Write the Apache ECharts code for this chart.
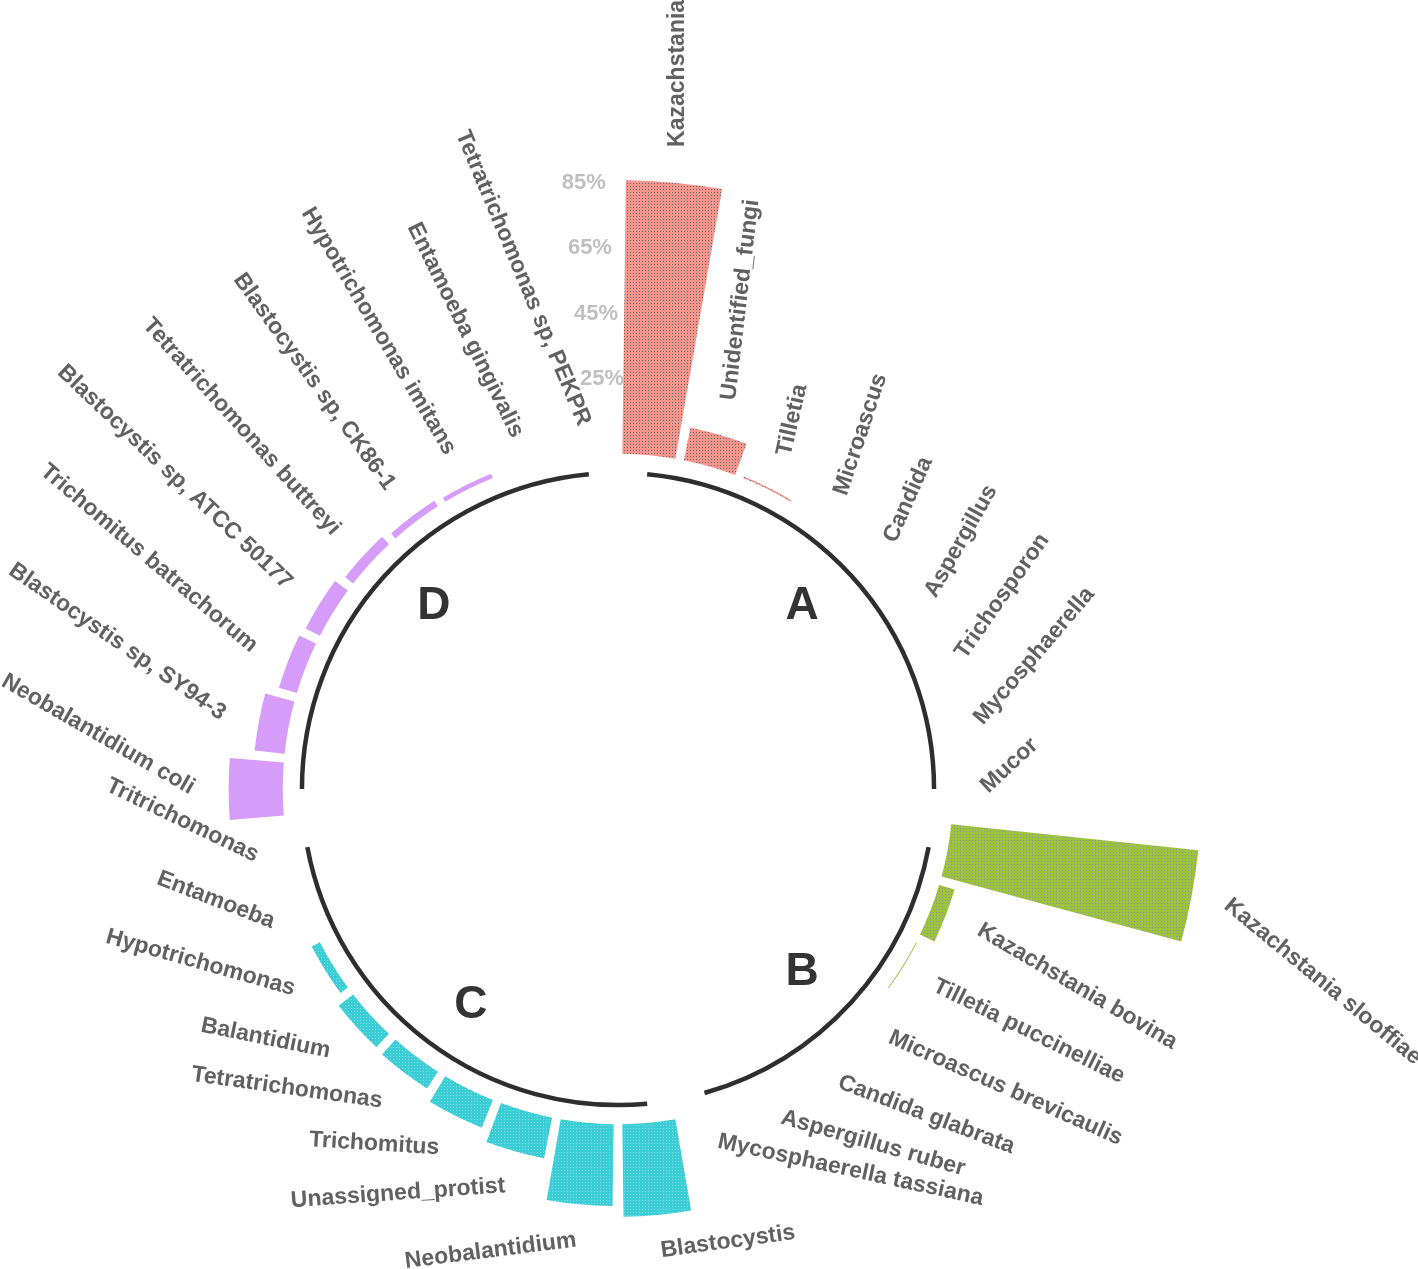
<!DOCTYPE html>
<html>
<head>
<meta charset="utf-8">
<script src="https://cdn.jsdelivr.net/npm/echarts@6/dist/echarts.min.js"></script>
<style>
html,body{margin:0;padding:0;background:#ffffff;}
#chart{width:1418px;height:1269px;}
</style>
</head>
<body>
<div id="chart"></div>
<script>
// ---------------- data ----------------
const groupNames = ['A', 'B', 'C', 'D'];

const namesA = ['Kazachstania', 'Unidentified_fungi', 'Tilletia', 'Microascus', 'Candida',
  'Aspergillus', 'Trichosporon', 'Mycosphaerella', 'Mucor'];
const valuesA = [85.0, 11.9, 2.3, 1.2, 0.8, 0.6, 0.5, 0.4, 0.3];

const namesB = ['Kazachstania slooffiae', 'Kazachstania bovina', 'Tilletia puccinelliae',
  'Microascus brevicaulis', 'Candida glabrata', 'Aspergillus ruber', 'Mycosphaerella tassiana'];
const valuesB = [77.3, 6.7, 2.1, 0.8, 0.5, 0.4, 0.3];

const namesC = ['Blastocystis', 'Neobalantidium', 'Unassigned_protist', 'Trichomitus',
  'Tetratrichomonas', 'Balantidium', 'Hypotrichomonas', 'Entamoeba', 'Tritrichomonas'];
const valuesC = [30.0, 26.7, 14.4, 10.9, 7.9, 7.4, 4.6, 1.2, 0.5];

const namesD = ['Neobalantidium coli', 'Blastocystis sp, SY94-3', 'Trichomitus batrachorum',
  'Blastocystis sp, ATCC 50177', 'Tetratrichomonas buttreyi', 'Blastocystis sp, CK86-1',
  'Hypotrichomonas imitans', 'Entamoeba gingivalis', 'Tetratrichomonas sp, PEKPR'];
const valuesD = [18.3, 11.0, 7.5, 6.7, 4.9, 3.8, 3.2, 0.5, 0.2];

const tickValues = [25, 45, 65, 85];

// ---------------- styles ----------------
const groupColors = ['#F9958C', '#9CC43A', '#3BCDD5', '#D59CFA'];
const dotColors = ['rgba(35,95,95,0.75)', 'rgba(140,120,235,0.75)', 'rgba(255,255,255,0.35)', null];
// label tilt (degrees, counter-clockwise) for each label, per group
const labelTiltA = [90, 83.3, 77, 71.5, 66, 60.5, 55, 49.5, 43];
const labelTiltB = [-39.5, -30.4, -26.2, -23.9, -20.7, -15.9, -12.3];
const labelTiltC = [7.8, 7.2, 4, -3.6, -8, -11.5, -15.7, -21, -25.6];
const labelTiltD = [-30, -34.7, -40.4, -43.5, -48, -54.3, -59.4, -63.7, -67.3];
const labelTilts = [labelTiltA, labelTiltB, labelTiltC, labelTiltD];
const textFont = 'bold 23px "Liberation Sans", Arial, sans-serif';
const tickFont = 'bold 22px "Liberation Sans", Arial, sans-serif';

function makeFill(bg, dot) {
  if (!dot) return bg;
  const c = document.createElement('canvas');
  c.width = 3; c.height = 3;
  const g = c.getContext('2d');
  g.fillStyle = bg; g.fillRect(0, 0, 3, 3);
  g.fillStyle = dot; g.fillRect(0, 0, 1, 1);
  return { image: c, repeat: 'repeat' };
}
const fills = groupColors.map((c, i) => makeFill(c, dotColors[i]));

// ---------------- build tables ----------------
const groupList = [[namesA, valuesA], [namesB, valuesB], [namesC, valuesC], [namesD, valuesD]];
const categories = [];
const barData = [];
const groupData = [];
groupList.forEach(function (g, gi) {
  const first = categories.length;
  g[0].forEach(function (n, k) {
    barData.push([categories.length, g[1][k], gi, k]);
    categories.push(n);
  });
  const last = categories.length - 1;
  groupData.push([(first + last) / 2, gi, first, last]);
});
const lastIdx = categories.length - 1;
const tickData = tickValues.map(v => [lastIdx, v]);

function pointAt(cs, ang, R) {
  return [cs.cx + R * Math.cos(ang), cs.cy - R * Math.sin(ang)];
}

const chart = echarts.init(document.getElementById('chart'), null, { renderer: 'canvas' });

const option = {
  backgroundColor: '#ffffff',
  animation: false,
  polar: { center: [618, 789], radius: [329.2, 658.2] },
  angleAxis: {
    type: 'category', data: categories, startAngle: 90, clockwise: true,
    axisLine: { show: false }, axisTick: { show: false }, axisLabel: { show: false },
    splitLine: { show: false }, splitArea: { show: false }
  },
  radiusAxis: {
    type: 'value', min: 0, max: 100,
    axisLine: { show: false }, axisTick: { show: false }, axisLabel: { show: false },
    splitLine: { show: false }, splitArea: { show: false }
  },
  series: [
    {
      type: 'custom', coordinateSystem: 'polar', data: barData,
      encode: { angle: 0, radius: 1 },
      renderItem: function (params, api) {
        const cs = params.coordSys;
        const idx = api.value(0), v = api.value(1), gi = api.value(2), k = api.value(3);
        const top = api.coord([v, idx]);
        const base = api.coord([0, idx]);
        const ang = top[3];
        const half = api.size([0, 1])[1] * 0.43;
        const rIn = base[2] + 6;
        const children = [];
        if (top[2] > rIn + 0.3) {
          children.push({
            type: 'sector',
            shape: { cx: cs.cx, cy: cs.cy, r0: rIn, r: top[2],
              startAngle: -ang - half, endAngle: -ang + half, clockwise: true },
            style: { fill: fills[gi] }
          });
        }
        const p = pointAt(cs, ang, top[2] + 36);
        let theta = (90 - ang * 180 / Math.PI) % 360;
        if (theta < 0) theta += 360;
        const rot = labelTilts[gi][k];
        children.push({
          type: 'text', x: p[0], y: p[1], rotation: rot * Math.PI / 180,
          style: { text: categories[idx], fill: '#616161', font: textFont,
            align: theta < 180 ? 'left' : 'right', verticalAlign: 'middle' }
        });
        return { type: 'group', children: children };
      }
    },
    {
      type: 'custom', coordinateSystem: 'polar', data: groupData,
      encode: { angle: 0 },
      renderItem: function (params, api) {
        const cs = params.coordSys;
        const mid = api.value(0), gi = api.value(1), first = api.value(2), last = api.value(3);
        const a1 = api.coord([-4, first]);
        const a2 = api.coord([-4, last]);
        const lp = api.coord([-17.5, mid]);
        return {
          type: 'group',
          children: [
            {
              type: 'arc',
              shape: { cx: cs.cx, cy: cs.cy, r: a1[2], startAngle: -a1[3], endAngle: -a2[3], clockwise: true },
              style: { stroke: '#2e2e2e', lineWidth: 4.5, fill: null, lineCap: 'butt' }
            },
            {
              type: 'text', x: lp[0], y: lp[1],
              style: { text: groupNames[gi], fill: '#333333',
                font: 'bold 46px "Liberation Sans", Arial, sans-serif',
                align: gi < 2 ? 'right' : 'left', verticalAlign: 'middle' }
            }
          ]
        };
      }
    },
    {
      type: 'custom', coordinateSystem: 'polar', data: tickData,
      encode: { angle: 0, radius: 1 },
      renderItem: function (params, api) {
        const p = api.coord([api.value(1), api.value(0)]);
        return {
          type: 'text', x: p[0], y: p[1],
          style: { text: api.value(1) + '%', fill: '#c0c0c0', font: tickFont,
            align: 'left', verticalAlign: 'middle' }
        };
      }
    }
  ]
};
chart.setOption(option);
</script>
</body>
</html>
